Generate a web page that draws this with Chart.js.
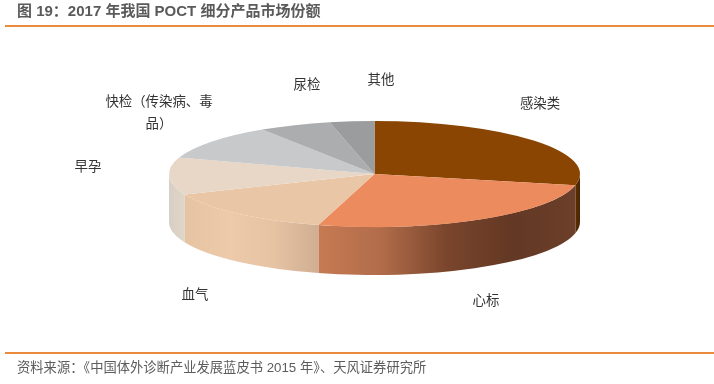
<!DOCTYPE html>
<html lang="zh">
<head>
<meta charset="utf-8">
<script src="https://cdn.jsdelivr.net/npm/chart.js@4/dist/chart.umd.min.js"></script>
<style>
html,body{margin:0;padding:0;background:#fff;width:714px;height:384px;overflow:hidden}
#wrap{position:relative;width:714px;height:384px;font-family:"Liberation Sans","Noto Sans CJK SC",sans-serif;filter:blur(0.45px)}
canvas{position:absolute;left:0;top:0}
.rule{position:absolute;left:5px;right:0;height:2px;background:#e98a3c}
#title{position:absolute;left:17px;top:2px;font-size:15px;font-weight:bold;color:#5a5a5a;line-height:18px;white-space:nowrap}
#source{position:absolute;left:17px;top:359px;font-size:13.3px;color:#5c5c5c;line-height:18px;white-space:nowrap}
</style>
</head>
<body>
<div id="wrap">
  <canvas id="c" width="714" height="384"></canvas>
  <div id="title">图 19：2017 年我国 POCT 细分产品市场份额</div>
  <div class="rule" style="top:25px"></div>
  <div class="rule" style="top:352px"></div>
  <div id="source">资料来源：《中国体外诊断产业发展蓝皮书 2015 年》、天风证券研究所</div>
</div>
<script>
const categories = ['感染类', '心标', '血气', '早孕', '快检（传染病、毒品）', '尿检', '其他'];
const shares = [28.4, 26.0, 14.3, 11.3, 10.8, 5.7, 3.5];
const topColors = ['#8a4503', '#ec8c5e', '#e9c6a6', '#e8d7c7', '#c8c9cb', '#acadae', '#9b9c9d'];
const sideStops = [
  ['#5a2e02', '#4a2502'],
  ['#c77a52', '#b06c4a', '#7a452c', '#633824', '#6b3f2a'],
  ['#e6c3a3', '#eccaaa', '#e6c3a3', '#cfae92'],
  ['#d8cfc4', '#e0d5c9'],
  ['#b0b0b0', '#b0b0b0'],
  ['#909090', '#909090'],
  ['#808080', '#808080']
];
const labelLines = [['感染类'], ['心标'], ['血气'], ['早孕'], ['快检（传染病、毒', '品）'], ['尿检'], ['其他']];
const labelCentres = [[540, 103], [486, 300], [195, 294], [88, 166], [159, 112], [307, 84], [381, 79]];

const squash = 53 / 205.5;
const depth = 48;

const pie3d = {
  id: 'pie3d',
  beforeDatasetsDraw(chart) {
    const ctx = chart.ctx;
    const arcs = chart.getDatasetMeta(0).data;
    arcs.forEach((arc, i) => {
      const R = arc.outerRadius, x = arc.x, y = arc.y, ry = R * squash;
      const a1 = Math.max(arc.startAngle, 0), a2 = Math.min(arc.endAngle, Math.PI);
      if (a2 <= a1) return;
      const xa = x + R * Math.cos(a2), xb = x + R * Math.cos(a1);
      const g = ctx.createLinearGradient(xa, 0, xb, 0);
      const st = sideStops[i];
      st.forEach((c, j) => g.addColorStop(j / (st.length - 1), c));
      ctx.save();
      ctx.beginPath();
      ctx.ellipse(x, y, R, ry, 0, a1, a2);
      ctx.ellipse(x, y + depth, R, ry, 0, a2, a1, true);
      ctx.closePath();
      ctx.fillStyle = g;
      ctx.fill();
      ctx.restore();
    });
    const first = arcs[0];
    ctx.save();
    ctx.translate(first.x, first.y);
    ctx.scale(1, squash);
    ctx.translate(-first.x, -first.y);
  },
  afterDatasetsDraw(chart) {
    const ctx = chart.ctx;
    ctx.restore();
    ctx.save();
    ctx.font = '13.4px "Noto Sans CJK SC", sans-serif';
    ctx.fillStyle = '#333333';
    ctx.textAlign = 'center';
    ctx.textBaseline = 'middle';
    labelLines.forEach((lines, i) => {
      const [cx, cy] = labelCentres[i];
      lines.forEach((t, j) => ctx.fillText(t, cx, cy + (j - (lines.length - 1) / 2) * 22));
    });
    ctx.restore();
  }
};

new Chart(document.getElementById('c'), {
  type: 'pie',
  data: {
    labels: categories,
    datasets: [{ data: shares, backgroundColor: topColors, borderWidth: 0, clip: false }]
  },
  options: {
    responsive: false,
    animation: false,
    radius: 205.5,
    layout: { padding: { left: 35, bottom: 36 } },
    plugins: { legend: { display: false }, title: { display: false }, tooltip: { enabled: false } }
  },
  plugins: [pie3d]
});
</script>
</body>
</html>
